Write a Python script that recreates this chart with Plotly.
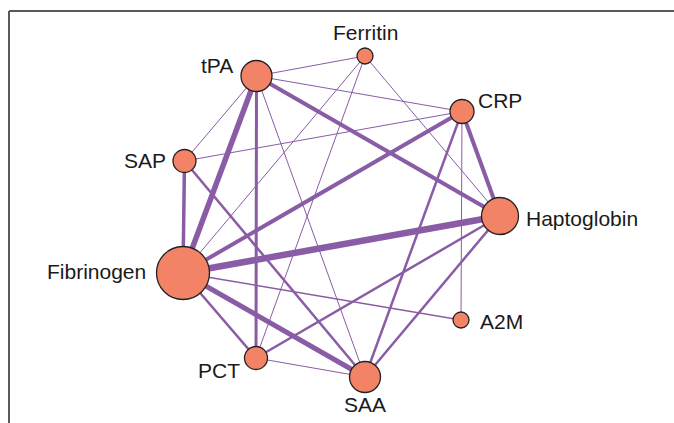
import plotly.graph_objects as go

# Nodes (layout coordinates of the network drawing)
nodes = ["Ferritin", "tPA", "CRP", "SAP", "Haptoglobin", "Fibrinogen", "A2M", "PCT", "SAA"]
node_x = [365, 256.5, 462, 184.5, 500, 183, 461, 256, 365]
node_y = [56, 76, 111.5, 161, 216, 273, 320, 358, 377]
node_size = [16, 31, 24, 23, 37, 53, 16, 23, 31]

# Edges: source, target, strength
edge_src = ["Fibrinogen", "Fibrinogen", "Fibrinogen", "Fibrinogen", "tPA", "CRP",
            "Fibrinogen", "tPA", "Fibrinogen", "SAP", "CRP", "Haptoglobin", "Haptoglobin",
            "Fibrinogen", "tPA", "tPA", "tPA", "tPA", "Ferritin", "Ferritin", "Ferritin",
            "CRP", "CRP", "PCT"]
edge_dst = ["Haptoglobin", "tPA", "SAA", "CRP", "Haptoglobin", "Haptoglobin",
            "SAP", "PCT", "PCT", "SAA", "SAA", "SAA", "PCT",
            "A2M", "Ferritin", "CRP", "SAP", "SAA", "Fibrinogen", "PCT", "Haptoglobin",
            "SAP", "A2M", "SAA"]
edge_w = [6.5, 5.5, 5, 4, 4, 4,
          3.5, 3, 2.5, 2.5, 2.5, 2.5, 2.5,
          1.5, 1, 1, 1, 1, 1, 1, 1,
          1, 1, 1]

# Label placement (offsets in px) per node
label_pos = {
    "Ferritin": (0, -24, "center"),
    "tPA": (-22, -11, "right"),
    "CRP": (14, -11, "left"),
    "SAP": (-17, -1, "right"),
    "Haptoglobin": (24, 2, "left"),
    "Fibrinogen": (-35, -2, "right"),
    "A2M": (17, 1, "left"),
    "PCT": (-14, 12, "right"),
    "SAA": (0, 27, "center"),
}

EDGE_COLOR = "#8a5ca6"
NODE_COLOR = "#f28366"

idx = {n: i for i, n in enumerate(nodes)}
fig = go.Figure()

for s, d, w in zip(edge_src, edge_dst, edge_w):
    i, j = idx[s], idx[d]
    fig.add_trace(go.Scatter(
        x=[node_x[i], node_x[j]], y=[node_y[i], node_y[j]],
        mode="lines", line=dict(color=EDGE_COLOR, width=w),
        hoverinfo="skip", showlegend=False))

fig.add_trace(go.Scatter(
    x=node_x, y=node_y, mode="markers",
    marker=dict(size=node_size, color=NODE_COLOR, opacity=1,
                line=dict(color="#222222", width=1.3)),
    text=nodes, hoverinfo="text", showlegend=False))

for n in nodes:
    i = idx[n]
    dx, dy, anchor = label_pos[n]
    fig.add_annotation(x=node_x[i], y=node_y[i], text=n, showarrow=False,
                       xshift=dx, yshift=-dy, xanchor=anchor, yanchor="middle",
                       font=dict(family="Liberation Sans, Arial, sans-serif", size=21, color="#1a1a1a"))

# frame lines
fig.add_shape(type="line", x0=9, x1=674, y0=11, y1=11, line=dict(color="#5a5a5a", width=2))
fig.add_shape(type="line", x0=9, x1=9, y0=11, y1=423, line=dict(color="#5a5a5a", width=2))

fig.update_layout(
    width=674, height=423, margin=dict(l=0, r=0, t=0, b=0),
    paper_bgcolor="white", plot_bgcolor="white",
    xaxis=dict(range=[0, 674], visible=False, fixedrange=True),
    yaxis=dict(range=[423, 0], visible=False, fixedrange=True),
)

fig.write_html("out.html")
